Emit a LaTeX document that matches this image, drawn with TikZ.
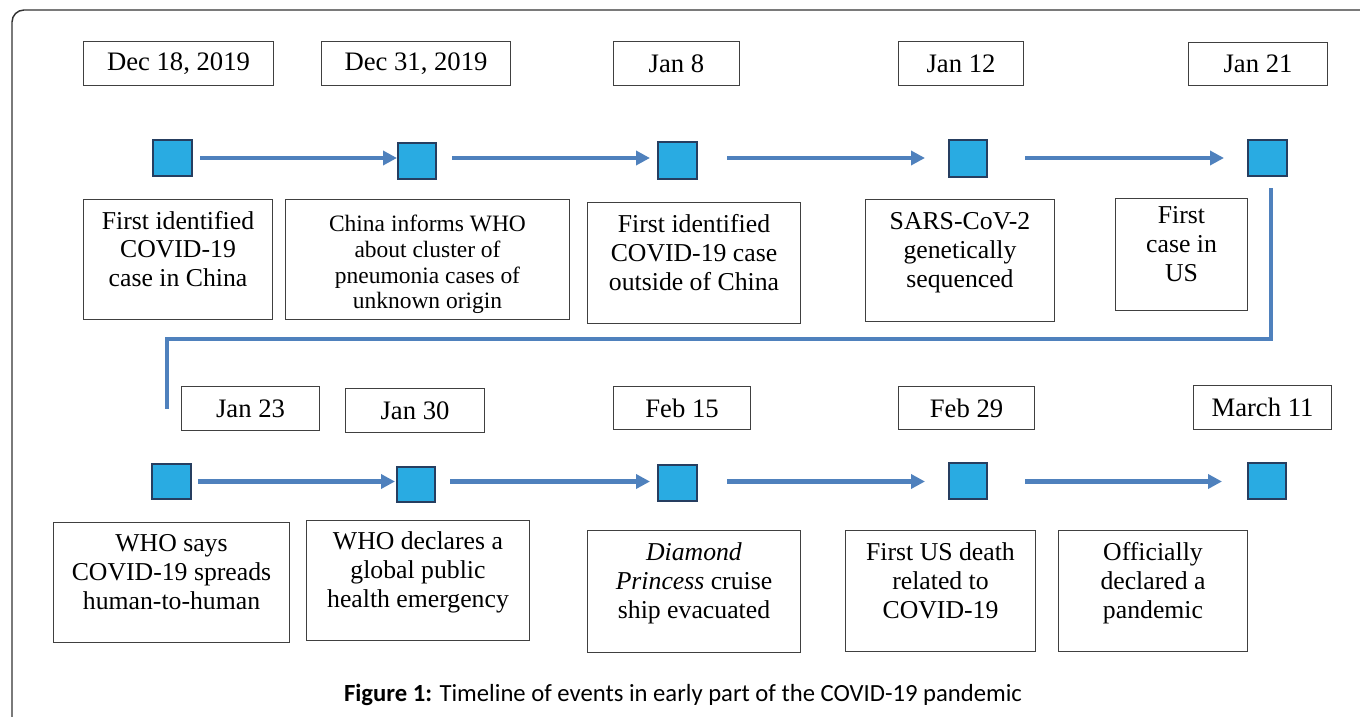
\documentclass[tikz,border=0pt]{standalone}
\usepackage{fontspec}
\setmainfont{Liberation Serif}
\newfontfamily\capfont{Carlito}
\usetikzlibrary{arrows.meta}
\definecolor{sqfill}{RGB}{41,171,226}
\definecolor{sqdraw}{RGB}{38,62,96}
\definecolor{arrblue}{RGB}{79,129,189}
\definecolor{boxline}{RGB}{64,64,64}
\definecolor{framecol}{RGB}{50,50,50}
\newcommand\dn{\rule[-16pt]{0pt}{0pt}}
\newcommand\upst{\rule{0pt}{20pt}}
\tikzset{
 evbox/.style={draw=boxline, line width=1.1pt, align=center, inner sep=0pt, font=\fontsize{19.3}{21.6}\selectfont},
 smallbox/.style={evbox, font=\fontsize{17.6}{19.3}\selectfont},
 datebox/.style={draw=boxline, line width=1.1pt, inner sep=0pt, font=\fontsize{20}{22}\selectfont},
 sq/.style={draw=sqdraw, fill=sqfill, line width=1.8pt, inner sep=0pt},
 arr/.style={draw=arrblue, line width=3.3pt, -{Triangle[length=10.5pt,width=10.5pt]}},
 conn/.style={draw=arrblue, line width=3.3pt},
 frame/.style={draw=framecol, line width=1.1pt, rounded corners=9pt},
}
\newcommand\mkbox[7]{\node[#1, minimum width={(#5-#3)*0.75pt-1.1pt}, minimum height={(#6-#4)*0.75pt-1.1pt}] (#2) at ({(#3+#5)/2},{(#4+#6)/2}) {#7};}
\newcommand\mksq[6]{\node[sq, minimum width={(#4-#2)*0.75pt-1.8pt}, minimum height={(#5-#3)*0.75pt-1.8pt}] (#1) at ({(#2+#4)/2},{(#3+#5)/2}) {#6};}
\begin{document}
\begin{tikzpicture}[x=0.75pt,y=-0.75pt]
\useasboundingbox (0,0) rectangle (1360,717);
\draw[frame] (12,717) -- (12,10) -- (1360,10);
% dates
\mkbox{datebox}{d1}{83}{41}{274}{86}{Dec 18, 2019}
\mkbox{datebox}{d2}{321}{41}{511}{86}{Dec 31, 2019}
\mkbox{datebox}{d3}{613}{41}{740}{86}{Jan 8}
\mkbox{datebox}{d4}{898}{41}{1024}{86}{Jan 12}
\mkbox{datebox}{d5}{1188}{42}{1328}{86}{Jan 21}
\mkbox{datebox}{d6}{181}{386}{320}{431}{Jan 23}
\mkbox{datebox}{d7}{345}{388}{485}{433}{Jan 30}
\mkbox{datebox}{d8}{613}{386}{751}{430}{Feb 15}
\mkbox{datebox}{d9}{898}{386}{1035}{430}{Feb 29}
\mkbox{datebox}{d10}{1193}{385}{1332}{430}{March 11}
% squares
\mksq{s1}{152}{139}{193}{177}{}
\mksq{s2}{397}{142}{437}{180}{}
\mksq{s3}{657}{141}{698}{180}{}
\mksq{s4}{948}{139}{988}{178}{}
\mksq{s5}{1247}{139}{1288}{177}{}
\mksq{s6}{151}{463}{192}{500}{}
\mksq{s7}{396}{466}{436}{503}{}
\mksq{s8}{657}{464}{698}{502}{}
\mksq{s9}{948}{462}{988}{500}{}
\mksq{s10}{1247}{462}{1287}{500}{}
% events
\mkbox{evbox}{e1}{83}{199}{273}{320}{First identified\\COVID-19\\case in China\dn}
\mkbox{smallbox}{e2}{285}{199}{570}{320}{\upst China informs WHO\\about cluster of\\pneumonia cases of\\unknown origin}
\mkbox{evbox}{e3}{587}{202}{801}{324}{First identified\\COVID-19 case\\outside of China\dn}
\mkbox{evbox}{e4}{865}{199}{1055}{322}{SARS-CoV-2\\genetically\\sequenced\dn}
\mkbox{evbox}{e5}{1115}{198}{1248}{311}{First\\case in\\US\dn}
\mkbox{evbox}{e6}{53}{522}{290}{643}{WHO says\\COVID-19 spreads\\human-to-human\dn}
\mkbox{evbox}{e7}{306}{520}{530}{641}{WHO declares a\\global public\\health emergency\dn}
\mkbox{evbox}{e8}{587}{530}{801}{653}{\textit{Diamond}\\\textit{Princess} cruise\\ship evacuated\dn}
\mkbox{evbox}{e9}{845}{530}{1036}{652}{First US death\\related to\\COVID-19\dn}
\mkbox{evbox}{e10}{1058}{530}{1248}{652}{Officially\\declared a\\pandemic\dn}
% arrows row 1
\draw[arr, shorten <=5.25pt] (s1.east) -- (s1 -| s2.west);
\draw[arr, shorten <=11.25pt, shorten >=5.25pt] (s2.east |- s1) -- (s1 -| s3.west);
\draw[arr, shorten <=21.75pt, shorten >=17.25pt] (s3.east |- s1) -- (s1 -| s4.west);
\draw[arr, shorten <=27.75pt, shorten >=17.25pt] (s4.east |- s1) -- (s1 -| s5.west);
% arrows row 2
\draw[arr, shorten <=4.5pt, shorten >=0.75pt] (s6.east) -- (s6 -| s7.west);
\draw[arr, shorten <=10.5pt, shorten >=5.25pt] (s7.east |- s6) -- (s6 -| s8.west);
\draw[arr, shorten <=21.75pt, shorten >=17.25pt] (s8.east |- s6) -- (s6 -| s9.west);
\draw[arr, shorten <=27.75pt, shorten >=18.75pt] (s9.east |- s6) -- (s6 -| s10.west);
% connector
\coordinate (cend) at (167,409);
\draw[conn, shorten <=8.25pt] ([xshift=2.5pt]s5.south) |- (cend |- 0,339) -- (cend);
% caption
\node[font=\capfont\fontsize{18.5}{21}\selectfont] (cap) at (683,695) {\textbf{Figure 1:} Timeline of events in early part of the COVID-19 pandemic};
\end{tikzpicture}
\end{document}
